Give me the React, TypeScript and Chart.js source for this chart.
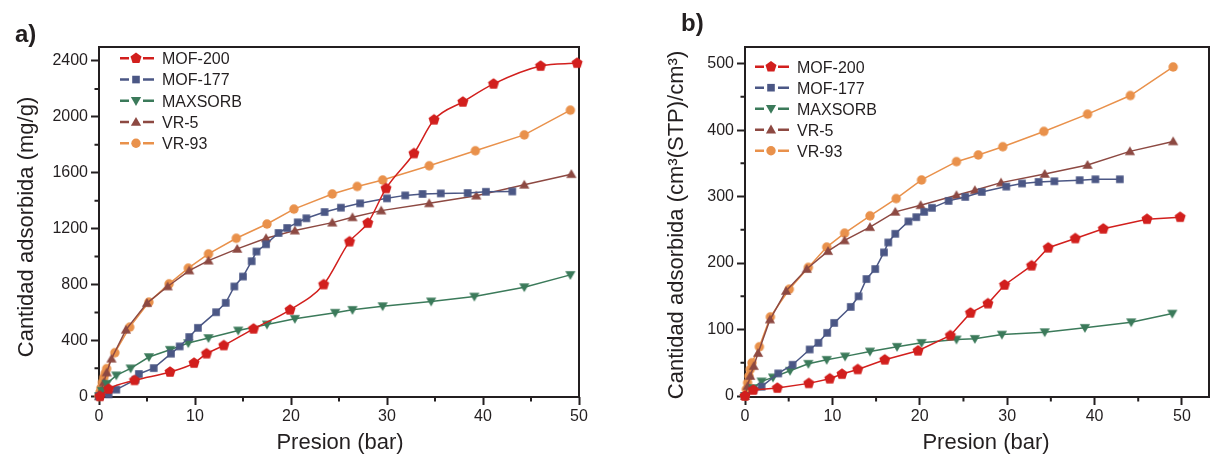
import React, { useEffect, useRef } from 'react';
import { Chart, registerables } from 'chart.js';

Chart.register(...registerables);

const FONT = '"Liberation Sans", Arial, Helvetica, sans-serif';
const INK = '#231f20';

const seriesNames = ['MOF-200', 'MOF-177', 'MAXSORB', 'VR-5', 'VR-93'];
const seriesColors = ['#d21f1d', '#4b5785', '#3b7a5a', '#8d4942', '#e9914b'];
const seriesMarkers = ['pentagon', 'square', 'triangleDown', 'triangleUp', 'circle'];

const xTicks = [0, 10, 20, 30, 40, 50];
const xMinorTicks = [5, 15, 25, 35, 45];
const yTicksA = [0, 400, 800, 1200, 1600, 2000, 2400];
const yMinorTicksA = [200, 600, 1000, 1400, 1800, 2200];
const yTicksB = [0, 100, 200, 300, 400, 500];
const yMinorTicksB = [50, 150, 250, 350, 450];

// Panel a) : mg/g
const mof200A = [[0.1, 0], [1.0, 52], [3.7, 114], [7.4, 174], [9.9, 238], [11.2, 305], [13.0, 364], [16.1, 483], [19.9, 619], [23.4, 800], [26.1, 1107], [28.0, 1240], [29.9, 1488], [32.8, 1738], [34.9, 1979], [37.9, 2107], [41.1, 2236], [46.0, 2364], [49.8, 2385]];
const mof177A = [[0, 0], [1.0, 14], [1.8, 48], [3.8, 119], [4.15, 160], [5.7, 202], [7.5, 305], [8.4, 357], [9.4, 424], [10.3, 490], [12.2, 602], [13.2, 669], [14.1, 786], [15.0, 857], [15.9, 967], [16.4, 1036], [17.4, 1088], [18.7, 1169], [19.6, 1205], [20.7, 1245], [21.6, 1274], [23.5, 1319], [25.2, 1350], [27.2, 1381], [30.0, 1417], [31.9, 1438], [33.7, 1448], [35.6, 1452], [38.4, 1455], [40.3, 1464], [43.05, 1466]];
const maxsorbA = [[0, 0], [0.3, 40], [0.8, 90], [1.8, 150], [3.3, 200], [5.2, 281], [7.4, 333], [9.3, 381], [11.4, 417], [14.5, 471], [17.5, 514], [20.4, 555], [24.6, 598], [26.4, 619], [29.55, 645], [34.6, 679], [39.1, 714], [44.3, 781], [49.1, 869]];
const vr5A = [[0, 0], [0.2, 40], [0.5, 100], [0.8, 170], [1.3, 269], [2.8, 476], [5.0, 667], [7.15, 786], [9.4, 900], [11.4, 971], [14.4, 1055], [17.4, 1131], [20.4, 1186], [24.3, 1243], [26.4, 1281], [29.4, 1329], [34.4, 1381], [39.3, 1436], [44.3, 1514], [49.2, 1590]];
const vr93A = [[0, 0], [0.1, 30], [0.2, 60], [0.35, 100], [0.5, 135], [0.65, 165], [0.8, 198], [1.65, 312], [3.2, 495], [5.2, 674], [7.3, 805], [9.3, 917], [11.4, 1019], [14.3, 1131], [17.5, 1233], [20.3, 1340], [24.3, 1448], [26.9, 1502], [29.55, 1548], [34.4, 1650], [39.2, 1757], [44.3, 1871], [49.1, 2048]];

// Panel b) : cm3(STP)/cm3
const mof200B = [[0, 0], [0.95, 9], [3.7, 12], [7.3, 19], [9.7, 26], [11.1, 33], [12.9, 40], [16.0, 54.5], [19.8, 68], [23.5, 91], [25.8, 125], [27.8, 139], [29.7, 167], [32.8, 196], [34.7, 223], [37.8, 237], [41.0, 251.5], [46.0, 266], [49.8, 269]];
const mof177B = [[0, 0], [0.95, 9], [1.9, 14], [3.8, 34], [5.45, 47], [7.4, 70], [8.4, 80], [9.4, 95], [10.2, 110], [12.1, 134], [13.0, 150], [13.9, 176], [14.9, 191], [15.9, 216], [16.4, 231], [17.2, 244], [18.7, 262.6], [19.6, 269], [20.5, 277], [21.4, 283], [23.3, 293.5], [25.2, 299.5], [27.1, 307], [29.9, 315], [31.7, 319.7], [33.6, 322], [35.4, 323], [38.3, 324.7], [40.1, 326], [42.9, 326]];
const maxsorbB = [[0, 0], [0.95, 12], [1.9, 22], [3.2, 28], [5.15, 38], [7.25, 48.5], [9.35, 54.5], [11.45, 59.6], [14.3, 67], [17.4, 74], [20.2, 80], [24.2, 85], [26.3, 86], [29.4, 92.4], [34.3, 96], [38.9, 102.5], [44.2, 111], [48.9, 124]];
const vr5B = [[0, 0], [0.3, 15], [0.6, 30], [1.0, 45], [1.5, 64.6], [2.86, 115], [4.7, 158], [7.06, 191], [9.5, 218], [11.4, 234], [14.3, 254], [17.2, 277], [20.1, 287], [24.2, 302], [26.3, 309.6], [29.3, 321], [34.3, 334], [39.2, 347.5], [44.05, 368], [49.0, 383]];
const vr93B = [[0, 0], [0.15, 10], [0.3, 20], [0.45, 30], [0.6, 40], [0.8, 50], [1.64, 74], [2.9, 119], [5.07, 160.6], [7.25, 193.4], [9.35, 224], [11.4, 245], [14.3, 271], [17.3, 297], [20.2, 325], [24.2, 352.5], [26.7, 362.6], [29.5, 375], [34.2, 398], [39.2, 424], [44.1, 452], [49.0, 495]];

function drawMarker(ctx: CanvasRenderingContext2D, kind: string, cx: number, cy: number, color: string) {
  ctx.save();
  ctx.fillStyle = color;
  ctx.beginPath();
  if (kind === 'pentagon') {
    const r = 5.8;
    for (let i = 0; i < 5; i++) {
      const a = -Math.PI / 2 + (i * 2 * Math.PI) / 5;
      const px = cx + r * Math.cos(a);
      const py = cy + r * Math.sin(a);
      if (i === 0) ctx.moveTo(px, py);
      else ctx.lineTo(px, py);
    }
    ctx.closePath();
  } else if (kind === 'square') {
    const s = 3.8;
    ctx.rect(cx - s, cy - s, 2 * s, 2 * s);
  } else if (kind === 'triangleUp' || kind === 'triangleDown') {
    const r = 5.9;
    const d = kind === 'triangleUp' ? 1 : -1;
    for (let i = 0; i < 3; i++) {
      const a = -Math.PI / 2 + (i * 2 * Math.PI) / 3;
      const px = cx + r * Math.cos(a);
      const py = cy + d * r * Math.sin(a) + d * 0.8;
      if (i === 0) ctx.moveTo(px, py);
      else ctx.lineTo(px, py);
    }
    ctx.closePath();
  } else {
    ctx.arc(cx, cy, 4.7, 0, Math.PI * 2);
  }
  ctx.fill();
  ctx.restore();
}

function markerCanvas(kind: string, color: string): HTMLCanvasElement {
  const c = document.createElement('canvas');
  c.width = 14;
  c.height = 14;
  const ctx = c.getContext('2d') as CanvasRenderingContext2D;
  drawMarker(ctx, kind, 7, 7, color);
  return c;
}

type PanelCfg = {
  tag: string;
  yTitle: string;
  xTitle: string;
  series: number[][][];
  smooth: boolean[];
  xMin: number;
  xMax: number;
  yMin: number;
  yMax: number;
  yTicks: number[];
  yMinor: number[];
  canvasLeft: number;
  canvasWidth: number;
  yAxisWidth: number;
  padRight: number;
  legendX: number;
  legendY: number;
  legendDy: number;
  tagX: number;
  tagY: number;
  yTitleX: number;
  yTitleY: number;
  xTitleX: number;
  xTitleY: number;
};

const CANVAS_H = 454;
const PLOT_TOP = 47;
const PLOT_BOTTOM = 397;

const panelA: PanelCfg = {
  tag: 'a)',
  yTitle: 'Cantidad adsorbida (mg/g)',
  xTitle: 'Presion (bar)',
  series: [mof200A, mof177A, maxsorbA, vr5A, vr93A],
  smooth: [true, false, false, false, false],
  xMin: 0,
  xMax: 50,
  yMin: -5,
  yMax: 2500,
  yTicks: yTicksA,
  yMinor: yMinorTicksA,
  canvasLeft: 0,
  canvasWidth: 600,
  yAxisWidth: 99,
  padRight: 21,
  legendX: 120,
  legendY: 58.3,
  legendDy: 21.25,
  tagX: 15,
  tagY: 42,
  yTitleX: 33,
  yTitleY: 227,
  xTitleX: 340,
  xTitleY: 449,
};

const panelB: PanelCfg = {
  tag: 'b)',
  yTitle: 'Cantidad adsorbida (cm³(STP)/cm³)',
  xTitle: 'Presion (bar)',
  series: [mof200B, mof177B, maxsorbB, vr5B, vr93B],
  smooth: [false, false, false, false, false],
  xMin: 0,
  xMax: 53.1,
  yMin: -1.5,
  yMax: 525,
  yTicks: yTicksB,
  yMinor: yMinorTicksB,
  canvasLeft: 630,
  canvasWidth: 585,
  yAxisWidth: 115,
  padRight: 6,
  legendX: 125,
  legendY: 66.7,
  legendDy: 21,
  tagX: 51,
  tagY: 31,
  yTitleX: 53,
  yTitleY: 225,
  xTitleX: 356,
  xTitleY: 449,
};

function Panel({ cfg }: { cfg: PanelCfg }) {
  const ref = useRef<HTMLCanvasElement | null>(null);

  useEffect(() => {
    const canvas = ref.current;
    if (!canvas) return;

    const datasets = cfg.series.map((pts, i) => ({
      label: seriesNames[i],
      data: pts.map(([x, y]) => ({ x, y })),
      borderColor: seriesColors[i],
      backgroundColor: seriesColors[i],
      borderWidth: 1.5,
      pointStyle: markerCanvas(seriesMarkers[i], seriesColors[i]) as any,
      pointRadius: 5,
      pointBorderWidth: 0,
      tension: cfg.smooth[i] ? 0.4 : 0,
      cubicInterpolationMode: cfg.smooth[i] ? ('monotone' as const) : ('default' as const),
      clip: false as any,
    }));

    const decor = {
      id: 'decor',
      beforeDatasetsDraw(chart: any) {
        const { ctx, chartArea } = chart;
        const { left, right, top, bottom } = chartArea;
        const xs = chart.scales.x;
        const ys = chart.scales.y;
        ctx.save();
        ctx.strokeStyle = INK;
        ctx.lineWidth = 2;
        ctx.strokeRect(left, top, right - left, bottom - top);
        ctx.beginPath();
        xMinorTicks.forEach((v) => {
          const p = xs.getPixelForValue(v);
          ctx.moveTo(p, bottom);
          ctx.lineTo(p, bottom + 4.5);
        });
        cfg.yMinor.forEach((v) => {
          const p = ys.getPixelForValue(v);
          ctx.moveTo(left, p);
          ctx.lineTo(left - 4.5, p);
        });
        ctx.stroke();
        ctx.restore();
      },
      afterDraw(chart: any) {
        const { ctx } = chart;
        ctx.save();
        // legend
        seriesNames.forEach((name, i) => {
          const y = cfg.legendY + i * cfg.legendDy;
          const x0 = cfg.legendX;
          ctx.strokeStyle = seriesColors[i];
          ctx.lineWidth = 2.6;
          ctx.beginPath();
          ctx.moveTo(x0, y);
          ctx.lineTo(x0 + 9, y);
          ctx.moveTo(x0 + 23, y);
          ctx.lineTo(x0 + 34, y);
          ctx.stroke();
          drawMarker(ctx, seriesMarkers[i], x0 + 16, y, seriesColors[i]);
          ctx.fillStyle = INK;
          ctx.font = `16px ${FONT}`;
          ctx.textAlign = 'left';
          ctx.textBaseline = 'alphabetic';
          ctx.fillText(name, x0 + 42, y + 5.8);
        });
        // panel tag
        ctx.fillStyle = INK;
        ctx.font = `bold 24px ${FONT}`;
        ctx.textAlign = 'left';
        ctx.textBaseline = 'alphabetic';
        ctx.fillText(cfg.tag, cfg.tagX, cfg.tagY);
        // x title
        ctx.font = `22px ${FONT}`;
        ctx.textAlign = 'center';
        ctx.fillText(cfg.xTitle, cfg.xTitleX, cfg.xTitleY);
        // y title
        ctx.translate(cfg.yTitleX, cfg.yTitleY);
        ctx.rotate(-Math.PI / 2);
        ctx.fillText(cfg.yTitle, 0, 0);
        ctx.restore();
      },
    };

    const chart = new Chart(canvas, {
      type: 'line',
      data: { datasets: datasets as any },
      options: {
        responsive: false,
        animation: false,
        devicePixelRatio: 1,
        layout: {
          autoPadding: false,
          padding: { top: PLOT_TOP, left: 0, right: cfg.padRight, bottom: 0 },
        },
        plugins: {
          legend: { display: false },
          tooltip: { enabled: false },
          title: { display: false },
        },
        scales: {
          x: {
            type: 'linear',
            min: cfg.xMin,
            max: cfg.xMax,
            afterBuildTicks: (scale: any) => {
              scale.ticks = xTicks.map((v) => ({ value: v }));
            },
            afterFit: (scale: any) => {
              scale.height = CANVAS_H - PLOT_BOTTOM;
            },
            grid: {
              display: true,
              drawOnChartArea: false,
              drawTicks: true,
              tickLength: 8,
              tickWidth: 2,
              tickColor: INK,
              color: INK,
            },
            border: { display: false },
            ticks: {
              autoSkip: false,
              maxRotation: 0,
              padding: 2,
              color: INK,
              font: { family: FONT, size: 16 },
              callback: (v: any) => String(v),
            },
          },
          y: {
            type: 'linear',
            min: cfg.yMin,
            max: cfg.yMax,
            afterBuildTicks: (scale: any) => {
              scale.ticks = cfg.yTicks.map((v) => ({ value: v }));
            },
            afterFit: (scale: any) => {
              scale.width = cfg.yAxisWidth;
            },
            grid: {
              display: true,
              drawOnChartArea: false,
              drawTicks: true,
              tickLength: 8,
              tickWidth: 2,
              tickColor: INK,
              color: INK,
            },
            border: { display: false },
            ticks: {
              autoSkip: false,
              padding: 3,
              color: INK,
              font: { family: FONT, size: 16 },
              callback: (v: any) => String(v),
            },
          },
        },
      },
      plugins: [decor],
    });

    return () => chart.destroy();
  }, [cfg]);

  return (
    <canvas
      ref={ref}
      width={cfg.canvasWidth}
      height={CANVAS_H}
      style={{
        position: 'absolute',
        left: cfg.canvasLeft,
        top: 0,
        width: cfg.canvasWidth,
        height: CANVAS_H,
      }}
    />
  );
}

export default function App() {
  return (
    <div
      style={{
        position: 'absolute',
        left: 0,
        top: 0,
        width: 1215,
        height: 454,
        background: '#ffffff',
        overflow: 'hidden',
      }}
    >
      <Panel cfg={panelA} />
      <Panel cfg={panelB} />
    </div>
  );
}
